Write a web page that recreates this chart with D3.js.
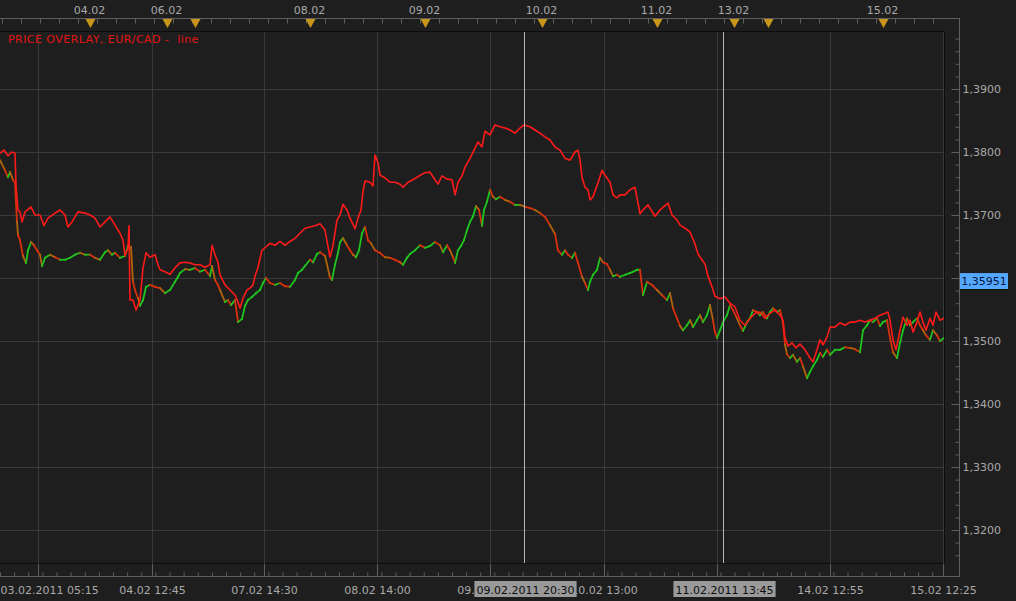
<!DOCTYPE html>
<html><head><meta charset="utf-8">
<script src="https://cdn.jsdelivr.net/npm/d3@7"></script>
<style>
body{margin:0;background:#1e1e1e;overflow:hidden}
svg{display:block}
text{font-family:"DejaVu Sans",sans-serif;font-size:11px}
</style></head><body>
<svg id="c" width="1016" height="601"></svg>
<script>
// ---- data (bar number, price) ----
const eurcadLine = [[0,1.3798],[4,1.3803],[8,1.3794],[12,1.3800],[15,1.3798],[16,1.3748],[18,1.3708],[20,1.3705],[22,1.3689],[25,1.3705],[31,1.3713],[35,1.3700],[40,1.3700],[44,1.3683],[48,1.3695],[55,1.3703],[60,1.3708],[65,1.3700],[68,1.3681],[72,1.3689],[78,1.3705],[85,1.3703],[90,1.3700],[95,1.3695],[100,1.3681],[105,1.3689],[110,1.3697],[115,1.3684],[120,1.3671],[123,1.3660],[125,1.3635],[128,1.3648],[129,1.3683],[130,1.3565],[133,1.3565],[136,1.3549],[140,1.3565],[143,1.3616],[146,1.3640],[150,1.3633],[155,1.3637],[158,1.3621],[160,1.3613],[165,1.3610],[170,1.3606],[175,1.3616],[180,1.3624],[185,1.3625],[190,1.3624],[195,1.3621],[200,1.3621],[205,1.3617],[210,1.3621],[212,1.3652],[215,1.3637],[218,1.3625],[220,1.3605],[225,1.3589],[230,1.3581],[235,1.3573],[238,1.3562],[240,1.3552],[243,1.3568],[247,1.3581],[250,1.3584],[253,1.3589],[255,1.3603],[258,1.3617],[262,1.3644],[265,1.3648],[270,1.3655],[275,1.3652],[280,1.3658],[285,1.3652],[290,1.3658],[295,1.3663],[300,1.3671],[305,1.3679],[310,1.3681],[315,1.3683],[320,1.3686],[325,1.3676],[330,1.3633],[333,1.3652],[337,1.3692],[340,1.3700],[343,1.3717],[347,1.3708],[350,1.3695],[355,1.3678],[358,1.3695],[361,1.3708],[363,1.3737],[365,1.3754],[370,1.3752],[373,1.3746],[375,1.3795],[378,1.3783],[380,1.3763],[385,1.3759],[390,1.3752],[395,1.3752],[400,1.3749],[403,1.3744],[408,1.3752],[413,1.3756],[420,1.3763],[425,1.3767],[430,1.3768],[435,1.3756],[438,1.3749],[442,1.3762],[447,1.3757],[452,1.3756],[455,1.3732],[458,1.3752],[462,1.3762],[465,1.3776],[470,1.3790],[475,1.3806],[478,1.3816],[482,1.3808],[485,1.3833],[490,1.3827],[495,1.3843],[500,1.3840],[505,1.3838],[510,1.3835],[515,1.3830],[520,1.3838],[524,1.3843],[530,1.3840],[535,1.3835],[540,1.3830],[545,1.3824],[550,1.3819],[555,1.3808],[560,1.3803],[565,1.3790],[570,1.3787],[575,1.3800],[578,1.3803],[580,1.3787],[582,1.3760],[585,1.3744],[588,1.3740],[590,1.3724],[593,1.3729],[598,1.3751],[602,1.3771],[605,1.3763],[610,1.3752],[613,1.3732],[617,1.3727],[620,1.3732],[625,1.3732],[630,1.3740],[635,1.3744],[640,1.3702],[643,1.3708],[648,1.3716],[655,1.3698],[660,1.3708],[668,1.3719],[672,1.3700],[677,1.3692],[680,1.3684],[685,1.3679],[690,1.3673],[695,1.3654],[698,1.3638],[702,1.3629],[705,1.3622],[708,1.3603],[712,1.3586],[715,1.3571],[720,1.3567],[725,1.3570],[730,1.3560],[735,1.3554],[740,1.3533],[745,1.3525],[750,1.3536],[755,1.3544],[760,1.3546],[765,1.3536],[770,1.3544],[775,1.3549],[780,1.3541],[783,1.3533],[785,1.3505],[788,1.3492],[792,1.3497],[796,1.3489],[800,1.3495],[805,1.3486],[810,1.3473],[813,1.3467],[817,1.3486],[820,1.3502],[823,1.3494],[827,1.3506],[830,1.3522],[835,1.3522],[840,1.3529],[845,1.3525],[850,1.3530],[855,1.3530],[860,1.3533],[865,1.3530],[870,1.3533],[875,1.3536],[880,1.3541],[885,1.3544],[888,1.3546],[890,1.3533],[893,1.3502],[896,1.3486],[900,1.3517],[903,1.3538],[907,1.3525],[910,1.3533],[913,1.3514],[917,1.3530],[920,1.3546],[923,1.3530],[926,1.3517],[930,1.3536],[933,1.3525],[936,1.3546],[940,1.3533],[944,1.3536]];

const baseBars = [[0,1.3787],[5,1.3771],[8,1.3760],[10,1.3768],[13,1.3756],[15,1.3751],[17,1.3689],[18,1.3668],[20,1.3660],[23,1.3635],[26,1.3624],[28,1.3644],[31,1.3657],[34,1.3652],[37,1.3644],[40,1.3637],[42,1.3619],[45,1.3632],[50,1.3637],[55,1.3633],[60,1.3629],[65,1.3629],[70,1.3632],[75,1.3637],[80,1.3640],[85,1.3637],[90,1.3637],[95,1.3632],[100,1.3629],[105,1.3641],[108,1.3644],[112,1.3637],[115,1.3640],[120,1.3632],[125,1.3635],[128,1.3652],[131,1.3649],[133,1.3594],[135,1.3581],[138,1.3568],[140,1.3556],[143,1.3565],[146,1.3586],[150,1.3589],[155,1.3586],[160,1.3584],[165,1.3576],[170,1.3581],[175,1.3594],[178,1.3602],[180,1.3608],[185,1.3614],[190,1.3613],[195,1.3616],[200,1.3610],[205,1.3613],[210,1.3603],[212,1.3619],[215,1.3597],[218,1.3589],[220,1.3581],[225,1.3562],[228,1.3565],[231,1.3557],[235,1.3565],[238,1.3530],[242,1.3535],[245,1.3556],[248,1.3565],[252,1.3570],[256,1.3576],[260,1.3581],[263,1.3592],[266,1.3600],[270,1.3592],[275,1.3589],[280,1.3592],[285,1.3587],[290,1.3586],[295,1.3597],[298,1.3608],[302,1.3613],[305,1.3619],[310,1.3629],[313,1.3625],[317,1.3638],[320,1.3641],[325,1.3635],[330,1.3601],[332,1.3597],[335,1.3621],[338,1.3640],[340,1.3657],[343,1.3663],[347,1.3652],[350,1.3644],[353,1.3637],[356,1.3633],[359,1.3644],[362,1.3671],[365,1.3681],[368,1.3660],[371,1.3655],[375,1.3644],[380,1.3640],[385,1.3633],[390,1.3632],[395,1.3629],[400,1.3625],[403,1.3621],[407,1.3632],[410,1.3638],[415,1.3644],[420,1.3652],[425,1.3648],[430,1.3651],[435,1.3657],[440,1.3652],[443,1.3641],[447,1.3652],[450,1.3644],[453,1.3633],[455,1.3624],[458,1.3644],[461,1.3651],[464,1.3660],[467,1.3676],[470,1.3689],[473,1.3698],[476,1.3714],[479,1.3708],[482,1.3683],[484,1.3708],[487,1.3721],[490,1.3740],[493,1.3729],[496,1.3725],[500,1.3729],[505,1.3724],[510,1.3721],[515,1.3716],[520,1.3716],[525,1.3713],[530,1.3711],[535,1.3708],[540,1.3703],[545,1.3697],[550,1.3684],[555,1.3670],[558,1.3644],[562,1.3637],[565,1.3644],[568,1.3637],[572,1.3632],[575,1.3640],[578,1.3624],[582,1.3602],[585,1.3592],[588,1.3581],[590,1.3594],[593,1.3605],[597,1.3613],[600,1.3632],[603,1.3625],[607,1.3622],[610,1.3613],[613,1.3603],[617,1.3605],[620,1.3602],[625,1.3605],[630,1.3608],[633,1.3610],[637,1.3613],[640,1.3613],[643,1.3573],[647,1.3594],[652,1.3589],[657,1.3581],[662,1.3573],[667,1.3565],[670,1.3576],[673,1.3552],[677,1.3536],[680,1.3524],[683,1.3517],[687,1.3525],[690,1.3533],[693,1.3522],[697,1.3533],[700,1.3541],[703,1.3530],[707,1.3541],[710,1.3557],[713,1.3533],[715,1.3514],[717,1.3505],[720,1.3517],[723,1.3530],[727,1.3541],[730,1.3557],[733,1.3549],[737,1.3536],[740,1.3525],[743,1.3516],[747,1.3530],[750,1.3536],[753,1.3549],[757,1.3546],[760,1.3541],[763,1.3546],[767,1.3536],[770,1.3546],[773,1.3552],[777,1.3546],[780,1.3549],[783,1.3529],[785,1.3494],[787,1.3479],[790,1.3473],[793,1.3478],[797,1.3467],[800,1.3473],[803,1.3460],[807,1.3441],[810,1.3451],[813,1.3460],[817,1.3470],[820,1.3481],[823,1.3475],[827,1.3486],[830,1.3478],[835,1.3486],[840,1.3486],[845,1.3490],[850,1.3489],[855,1.3487],[860,1.3482],[863,1.3517],[867,1.3525],[870,1.3533],[873,1.3530],[877,1.3536],[880,1.3524],[883,1.3530],[887,1.3533],[890,1.3505],[893,1.3482],[897,1.3473],[900,1.3497],[903,1.3517],[907,1.3536],[910,1.3525],[913,1.3530],[917,1.3536],[920,1.3525],[923,1.3517],[926,1.3509],[930,1.3502],[933,1.3517],[937,1.3509],[940,1.3500],[944,1.3505]];

const priceTicks = [1.32,1.33,1.34,1.35,1.36,1.37,1.38,1.39];
const timeTickBars = [38,152,264,377,490,604,717,830,943];
const timeTickLabels = ["03.02.2011 05:15","04.02 12:45","07.02 14:30","08.02 14:00","09.02 13:30","10.02 13:00","","14.02 12:55","15.02 12:25"];
const dayBars = [89,166,309,424,541,656,733,882];
const dayLabels = ["04.02","06.02","08.02","09.02","10.02","11.02","13.02","15.02"];
const eventBars = [90,167,195,310,425,542,657,734,768,883];
const cursorBars = [524,723];
const cursorLabels = ["09.02.2011 20:30","11.02.2011 13:45"];
const lastPrice = 1.35951;
const title = "PRICE OVERLAY, EUR/CAD -  line";

// ---- layout ----
const P = {l:0, r:944, t:31, b:563};
const axisX = 959, topY = 18, botY = 576;
const svg = d3.select("#c");
svg.append("rect").attr("width",1016).attr("height",601).attr("fill","#1e1e1e");

const x = d3.scaleLinear().domain([0,944]).range([P.l,P.r]);
const y = d3.scaleLinear().domain([1.32,1.39]).range([530,89]);
const fmt = v => d3.format(".4f")(v).replace(".",",");
const tagY = y(lastPrice);

// grid
const grid = svg.append("g").attr("stroke","#393939").attr("stroke-width",1).attr("shape-rendering","crispEdges");
grid.selectAll(".h").data(priceTicks).join("line")
  .attr("x1",P.l).attr("x2",P.r).attr("y1",d=>Math.round(y(d))+0.5).attr("y2",d=>Math.round(y(d))+0.5);
grid.selectAll(".v").data(timeTickBars).join("line")
  .attr("y1",P.t).attr("y2",P.b).attr("x1",d=>Math.round(x(d))+0.5).attr("x2",d=>Math.round(x(d))+0.5);

// clip
svg.append("clipPath").attr("id","pc").append("rect").attr("x",P.l).attr("y",P.t).attr("width",P.r-P.l).attr("height",P.b-P.t);
const plot = svg.append("g").attr("clip-path","url(#pc)");

// bar series drawn as direction-coloured segments
const segs = d3.pairs(baseBars);
plot.append("g").selectAll("line").data(segs).join("line")
  .attr("x1",d=>x(d[0][0])).attr("y1",d=>y(d[0][1]))
  .attr("x2",d=>x(d[1][0])).attr("y2",d=>y(d[1][1]))
  .attr("stroke",(d,i)=> d[1][1]>=d[0][1] ? "#1fc41f" : (i%3===0 ? "#b0640c" : "#d8300c"))
  .attr("stroke-width",1.8).attr("stroke-linecap","square");

// red line
plot.append("path").datum(eurcadLine)
  .attr("d",d3.line().x(d=>x(d[0])).y(d=>y(d[1])))
  .attr("fill","none").attr("stroke","#ff1a1a").attr("stroke-width",1.6).attr("stroke-linejoin","round");

// cursors
svg.append("g").selectAll("line").data(cursorBars).join("line")
  .attr("x1",d=>Math.round(x(d))+0.5).attr("x2",d=>Math.round(x(d))+0.5)
  .attr("y1",P.t).attr("y2",P.b).attr("stroke","#b4b4b4").attr("stroke-width",1);

// plot border
svg.append("path").attr("d",`M${P.l},${P.t+0.5}H${P.r+0.5}V${P.b+0.5}H${P.l}`)
  .attr("fill","none").attr("stroke","#0c0c0c").attr("stroke-width",1);

// axis lines
const axisCol = "#5e5e5e", textCol = "#a9a9a9";
svg.append("path").attr("d",`M0,${topY+0.5}H${axisX+0.5}V${botY+0.5}H0`)
  .attr("fill","none").attr("stroke",axisCol).attr("stroke-width",1).attr("shape-rendering","crispEdges");

// right axis (label hidden where the price tag sits)
const ra = svg.append("g").attr("transform",`translate(${axisX+0.5},0)`)
  .call(d3.axisRight(y).tickValues(priceTicks).tickSize(-8).tickPadding(3)
    .tickFormat(d => Math.abs(y(d)-tagY) < 12 ? "" : fmt(d)));
ra.select(".domain").remove();
ra.selectAll("line").attr("stroke",axisCol);
ra.selectAll("text").attr("fill",textCol).style("font-size","11px").style("font-family","DejaVu Sans");
const ram = svg.append("g").attr("transform",`translate(${axisX+0.5},0)`)
  .call(d3.axisRight(y).tickValues(d3.range(1.316,1.3995,0.002)).tickSize(-4).tickFormat(""));
ram.select(".domain").remove();
ram.selectAll("line").attr("stroke",axisCol);

// price tag
svg.append("rect").attr("x",960).attr("y",tagY-8).attr("width",48).attr("height",16).attr("fill","#55a8ff");
svg.append("line").attr("x1",960).attr("x2",1008).attr("y1",tagY+8.5).attr("y2",tagY+8.5).attr("stroke","#111");
svg.append("text").attr("x",984).attr("y",tagY+4).attr("text-anchor","middle").attr("fill","#06163a")
  .text(d3.format(".5f")(lastPrice).replace(".",","));

// bottom axis
const ba = svg.append("g").attr("transform",`translate(0,${botY+0.5})`)
  .call(d3.axisBottom(x).tickValues(timeTickBars).tickSize(-13).tickPadding(10).tickFormat((d,i)=>timeTickLabels[i]));
ba.select(".domain").remove();
ba.selectAll("line").attr("stroke",axisCol);
ba.selectAll("text").attr("fill",textCol).style("font-size","11px").style("font-family","DejaVu Sans");
ba.select(".tick text").attr("text-anchor","start").attr("x",-x(timeTickBars[0]));
const bam = svg.append("g").attr("transform",`translate(0,${botY+0.5})`)
  .call(d3.axisBottom(x).tickValues(d3.range(0,944,113/8)).tickSize(-4).tickFormat(""));
bam.select(".domain").remove();
bam.selectAll("line").attr("stroke",axisCol);

// top axis
const ta = svg.append("g").attr("transform",`translate(0,${topY+0.5})`)
  .call(d3.axisTop(x).tickValues(dayBars).tickSize(0).tickPadding(5).tickFormat((d,i)=>dayLabels[i]));
ta.select(".domain").remove();
ta.selectAll("text").attr("fill",textCol).style("font-size","11px").style("font-family","DejaVu Sans");
const tam = svg.append("g").attr("transform",`translate(0,${topY+0.5})`)
  .call(d3.axisBottom(x).tickValues(d3.range(2,944,19)).tickSize(5).tickFormat(""));
tam.select(".domain").remove();
tam.selectAll("line").attr("stroke",axisCol);

// event markers
svg.append("g").selectAll("path").data(eventBars).join("path")
  .attr("d",d=>{const c=Math.round(x(d))+0.5;return `M${c-5},${topY+1}L${c+5},${topY+1}L${c},${topY+10}Z`;})
  .attr("fill","#c8961a");

// cursor labels
cursorBars.forEach((b,i)=>{
  const cx = x(b)+1.5;
  const g = svg.append("g");
  const t = g.append("text").attr("x",cx).attr("y",594).attr("text-anchor","middle").attr("fill","#0e0e0e").text(cursorLabels[i]);
  const w = t.node().getComputedTextLength();
  g.insert("rect","text").attr("x",cx-w/2-2).attr("y",581).attr("width",w+4).attr("height",16).attr("fill","#9a9a9a");
});

// title
svg.append("text").attr("x",8).attr("y",43).attr("fill","#e41414")
  .attr("xml:space","preserve").style("white-space","pre").style("letter-spacing","0.45px").text(title);
</script>
</body></html>
